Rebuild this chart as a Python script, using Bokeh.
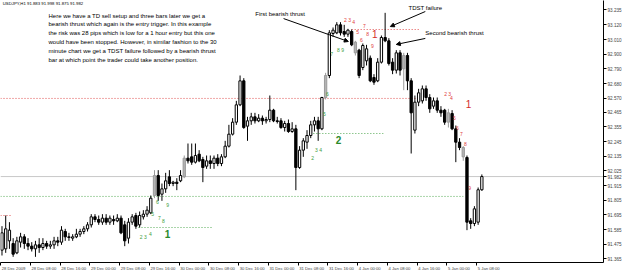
from bokeh.plotting import figure
from bokeh.models import (Range1d, LinearAxis, FixedTicker, Arrow, NormalHead, ColumnDataSource,
                          PrintfTickFormatter, CustomJSTickFormatter)
from bokeh.core.properties import value
from bokeh.embed import file_html
from bokeh.resources import INLINE

# ---- data (hourly USDJPY bars) ----
opens = [91.43, 91.44, 91.50, 91.48, 91.41, 91.49, 91.53, 91.48, 91.46, 91.44,
         91.47, 91.45, 91.48, 91.46, 91.47, 91.50, 91.49, 91.57, 91.53, 91.52,
         91.53, 91.55, 91.57, 91.59, 91.62, 91.68, 91.66, 91.64, 91.67, 91.64,
         91.66, 91.65, 91.67, 91.62, 91.52, 91.64, 91.69, 91.62, 91.68, 91.70,
         91.71, 91.84, 91.99, 91.85, 91.89, 91.98, 91.93, 91.94, 91.95, 91.98,
         92.12, 92.13, 92.09, 92.15, 92.11, 92.06, 92.10, 92.08, 92.12, 92.08,
         92.13, 92.21, 92.30, 92.39, 92.52, 92.70, 92.36, 92.40, 92.43, 92.40,
         92.42, 92.40, 92.41, 92.48, 92.40, 92.40, 92.35, 92.38, 92.32, 92.34,
         92.05, 92.18, 92.24, 92.29, 92.37, 92.40, 92.34, 92.575, 92.74, 93.055,
         93.06, 93.12, 93.07, 93.05, 93.07, 92.99, 92.93, 92.80, 92.85, 92.87,
         92.725, 92.70, 92.84, 93.025, 93.00, 92.84, 92.78, 92.91, 92.79, 92.89,
         92.70, 92.33, 92.54, 92.55, 92.64, 92.575, 92.51, 92.55, 92.48, 92.48,
         92.39, 92.455, 92.34, 92.24, 92.20, 92.125, 91.65, 91.63, 91.64, 91.883]
highs = [91.61, 91.69, 91.64, 91.52, 91.53, 91.56, 91.55, 91.52, 91.49, 91.50,
         91.52, 91.52, 91.50, 91.50, 91.53, 91.53, 91.61, 91.59, 91.56, 91.55,
         91.59, 91.59, 91.61, 91.64, 91.70, 91.70, 91.69, 91.70, 91.70, 91.69,
         91.69, 91.70, 91.69, 91.65, 91.67, 91.70, 91.71, 91.72, 91.73, 91.76,
         91.84, 92.03, 92.03, 91.93, 92.01, 92.03, 91.95, 91.97, 92.03, 92.14,
         92.23, 92.23, 92.23, 92.18, 92.13, 92.14, 92.14, 92.14, 92.15, 92.15,
         92.25, 92.37, 92.42, 92.55, 92.74, 92.72, 92.43, 92.46, 92.46, 92.45,
         92.44, 92.43, 92.59, 92.49, 92.43, 92.42, 92.40, 92.41, 92.39, 92.37,
         92.21, 92.27, 92.33, 92.40, 92.43, 92.43, 92.58, 92.76, 93.08, 93.10,
         93.14, 93.14, 93.12, 93.09, 93.085, 93.00, 92.94, 92.98, 92.97, 92.89,
         92.75, 92.87, 93.04, 93.21, 93.02, 92.87, 92.93, 92.93, 92.91, 92.91,
         92.72, 92.59, 92.64, 92.665, 92.665, 92.60, 92.575, 92.575, 92.51, 92.49,
         92.49, 92.48, 92.365, 92.27, 92.21, 92.14, 91.67, 91.76, 91.90, 91.998]
lows = [91.39, 91.41, 91.44, 91.38, 91.40, 91.45, 91.44, 91.43, 91.42, 91.38,
        91.41, 91.43, 91.44, 91.44, 91.44, 91.46, 91.47, 91.50, 91.50, 91.50,
        91.52, 91.53, 91.55, 91.57, 91.60, 91.64, 91.62, 91.62, 91.62, 91.62,
        91.62, 91.64, 91.55, 91.46, 91.48, 91.62, 91.59, 91.60, 91.66, 91.68,
        91.70, 91.82, 91.80, 91.80, 91.86, 91.91, 91.91, 91.88, 91.94, 91.97,
        92.08, 92.07, 92.08, 92.09, 91.94, 92.04, 92.04, 92.04, 92.06, 92.06,
        92.12, 92.20, 92.29, 92.37, 92.51, 92.34, 92.25, 92.37, 92.38, 92.39,
        92.37, 92.38, 92.39, 92.39, 92.38, 92.34, 92.32, 92.31, 92.31, 91.88,
        92.04, 92.13, 92.19, 92.27, 92.32, 92.25, 92.33, 92.56, 92.72, 93.03,
        93.05, 93.04, 93.03, 93.03, 92.96, 92.89, 92.72, 92.78, 92.815, 92.69,
        92.67, 92.69, 92.83, 92.99, 92.815, 92.75, 92.755, 92.74, 92.63, 92.63,
        92.155, 92.305, 92.51, 92.53, 92.55, 92.46, 92.49, 92.46, 92.43, 92.37,
        92.35, 92.33, 92.09, 92.18, 92.10, 91.58, 91.59, 91.61, 91.62, 91.875]
closes = [91.56, 91.59, 91.58, 91.40, 91.50, 91.53, 91.48, 91.46, 91.44, 91.47,
          91.45, 91.48, 91.46, 91.47, 91.50, 91.49, 91.58, 91.53, 91.525, 91.53,
          91.55, 91.57, 91.59, 91.62, 91.68, 91.66, 91.64, 91.67, 91.64, 91.67,
          91.65, 91.67, 91.56, 91.50, 91.64, 91.68, 91.61, 91.69, 91.70, 91.73,
          91.82, 91.99, 91.84, 91.89, 91.95, 91.93, 91.94, 91.93, 91.99, 92.12,
          92.10, 92.09, 92.14, 92.10, 92.05, 92.10, 92.08, 92.12, 92.08, 92.13,
          92.21, 92.30, 92.39, 92.52, 92.70, 92.35, 92.40, 92.43, 92.40, 92.42,
          92.40, 92.41, 92.48, 92.40, 92.395, 92.35, 92.38, 92.32, 92.34, 92.05,
          92.18, 92.25, 92.29, 92.37, 92.40, 92.34, 92.575, 92.74, 93.06, 93.08,
          93.12, 93.06, 93.05, 93.08, 92.97, 92.91, 92.74, 92.965, 92.94, 92.70,
          92.69, 92.84, 93.025, 93.00, 92.83, 92.78, 92.91, 92.78, 92.89, 92.70,
          92.46, 92.54, 92.61, 92.64, 92.575, 92.49, 92.55, 92.48, 92.46, 92.39,
          92.46, 92.34, 92.24, 92.20, 92.13, 91.64, 91.63, 91.74, 91.883, 91.982]

price_ticks = [93.235, 93.120, 93.010, 92.900, 92.790, 92.680, 92.570, 92.465, 92.355,
               92.245, 92.135, 92.025, 91.982, 91.915, 91.805, 91.695, 91.585, 91.475, 91.365]
date_bars = [0, 8, 16, 24, 32, 40, 48, 56, 64, 72, 80, 88, 96, 104, 112, 120, 128]
date_labels = ["28 Dec 2009", "28 Dec 08:00", "28 Dec 16:00", "29 Dec 00:00", "29 Dec 08:00",
               "29 Dec 16:00", "30 Dec 00:00", "30 Dec 08:00", "30 Dec 16:00", "31 Dec 00:00",
               "31 Dec 08:00", "31 Dec 16:00", "4 Jan 00:00", "4 Jan 08:00", "4 Jan 16:00",
               "5 Jan 00:00", "5 Jan 08:00"]
header = "USDJPY,H1  91.883 91.998 91.875 91.982"
last_price = 91.982
note_lines = ["Here we have a TD sell setup and three bars later we get a",
              "bearish thrust which again is the entry trigger. In this example",
              "the risk was 28 pips which is low for a 1 hour entry but this one",
              "would have been stopped. However, in similar fashion to the 30",
              "minute chart we get a TDST failure followed by a bearish thrust",
              "bar at which point the trader could take another position."]

# ---- styling / layout constants ----
FONT = "Liberation Sans"
PX_PER_BAR = 3.72
DATE_FONT_PX = 4.2
CHAR_EM = {**{d: 0.556 for d in "0123456789"}, " ": 0.278, ":": 0.278, "D": 0.722,
           "e": 0.556, "c": 0.5, "J": 0.5, "a": 0.556, "n": 0.556}

def text_width_bars(t):
    return sum(CHAR_EM.get(ch, 0.556) for ch in t) * DATE_FONT_PX / PX_PER_BAR

gray_bars = {41, 49, 87, 95, 108, 120, 124}
n = len(opens)
xs = list(range(n))
fill, line = [], []
for i in range(n):
    if i in gray_bars:
        fill.append("#b4b4b4"); line.append("#9a9a9a")
    elif closes[i] >= opens[i]:
        fill.append("white"); line.append("black")
    else:
        fill.append("black"); line.append("black")

src = ColumnDataSource(dict(x=xs, o=opens, h=highs, l=lows, c=closes,
                            top=[max(a, b) for a, b in zip(opens, closes)],
                            bot=[min(a, b) for a, b in zip(opens, closes)],
                            fill=fill, line=line))

p = figure(width=625, height=275, output_backend="svg", toolbar_location=None,
           x_range=Range1d(-0.4, 161.7), y_range=Range1d(91.3375, 93.3025),
           x_axis_location=None, y_axis_location=None,
           min_border_left=0, min_border_top=0, min_border_right=22, min_border_bottom=13)
p.outline_line_color = None
p.xgrid.visible = False
p.ygrid.visible = False
p.background_fill_color = "white"

# dotted level lines
levels = [(-0.4, 112.5, 92.568, "#e05050"), (94, 112.5, 93.085, "#e05050"),
          (-0.4, 2.3, 91.69, "#e05050"),
          (83.7, 102.5, 92.305, "#55aa55"), (-0.4, 124, 91.833, "#55aa55"),
          (36.7, 56.6, 91.60, "#55aa55")]
for x0, x1, yv, col in levels:
    p.segment(x0=[x0], y0=[yv], x1=[x1], y1=[yv], line_color=col, line_width=1, line_dash="1 2")
# current price line
p.segment(x0=[-0.4], y0=[last_price], x1=[161.7], y1=[last_price], line_color="#c8c8c8", line_width=1)

# candles
p.segment(x0="x", y0="l", x1="x", y1="h", line_color="line", line_width=1, source=src)
p.vbar(x="x", width=0.62, top="top", bottom="bot", fill_color="fill", line_color="line",
       line_width=1, source=src)

# price axis (right)
ra = LinearAxis(ticker=FixedTicker(ticks=price_ticks), formatter=PrintfTickFormatter(format="%.3f"))
ra.major_label_text_font_size = "4.6px"
ra.major_label_text_font = FONT
ra.major_tick_in = 0
ra.major_tick_out = 3
ra.minor_tick_line_color = None
ra.major_label_standoff = 1
ra.axis_line_color = "black"
p.add_layout(ra, "right")

# time axis: tick marks at bar boundaries
tick_pos = [b - 0.4 for b in date_bars]
ba = LinearAxis(ticker=FixedTicker(ticks=tick_pos), formatter=CustomJSTickFormatter(code="return ''"))
ba.major_label_text_font_size = "1px"
ba.major_label_standoff = 0
ba.major_tick_in = 0
ba.major_tick_out = 3
ba.minor_tick_line_color = None
ba.axis_line_color = "black"
p.add_layout(ba, "below")

# time labels: left-aligned at each tick (centre placed half a label width to the right)
centers = [round(tp + 0.3 + text_width_bars(t) / 2, 3) for tp, t in zip(tick_pos, date_labels)]
la = LinearAxis(ticker=FixedTicker(ticks=centers),
                major_label_overrides={c: t for c, t in zip(centers, date_labels)})
la.major_label_text_font_size = f"{DATE_FONT_PX}px"
la.major_label_text_font = FONT
la.major_label_standoff = 0
la.major_tick_in = 0
la.major_tick_out = 0
la.minor_tick_line_color = None
la.axis_line_color = None
p.add_layout(la, "below")

# header and note
p.text(x=[0.2], y=[93.28], text=[header], text_font=value(FONT), text_font_size="4.3px",
       text_baseline="middle", text_align="left", text_color="black")
note_y = [93.19, 93.124, 93.058, 92.992, 92.926, 92.86]
p.text(x=[12.5] * len(note_lines), y=note_y, text=note_lines, text_font=value(FONT),
       text_font_size="6px", text_baseline="middle", text_align="left", text_color="black")

# callouts
callouts = [(68.1, 93.205, "First bearish thrust"), (109.3, 93.25, "TDST failure"),
            (113.8, 93.06, "Second bearish thrust")]
for cx, cy, ct in callouts:
    p.text(x=[cx], y=[cy], text=[ct], text_font=value(FONT), text_font_size="6px",
           text_baseline="middle", text_align="left", text_color="black")
arrows = [(75.7, 93.167, 93.1, 92.995), (113.8, 93.22, 104.4, 93.107), (113.8, 93.018, 106.0, 92.973)]
for x0, y0, x1, y1 in arrows:
    p.add_layout(Arrow(end=NormalHead(size=4, fill_color="black", line_color="black", line_width=1),
                       x_start=x0, y_start=y0, x_end=x1, y_end=y1, line_color="black", line_width=1))

# TD counts
red_small = [(92.9, 93.16, "2 3"), (94.5, 93.138, "4"), (97.4, 93.115, "7"), (95.6, 93.063, "5"),
             (96.6, 93.003, "6"), (98.3, 93.048, "8"), (99.6, 92.965, "9"),
             (119.8, 92.605, "2 3"), (120.8, 92.575, "4"), (121.6, 92.425, "5"), (122.4, 92.343, "6"),
             (123.5, 92.305, "7"), (124.6, 92.223, "8"), (125.7, 91.893, "9")]
green_small = [(38.0, 91.532, "2 3"), (39.9, 91.548, "4"), (40.5, 91.698, "5"), (41.8, 91.788, "6"),
               (42.3, 91.675, "7"), (43.4, 91.65, "8"), (44.5, 91.77, "9"),
               (83.5, 92.125, "2"), (85.1, 92.178, "3 4"), (86.7, 92.448, "5"), (87.5, 92.605, "6"),
               (88.6, 92.898, "7"), (91.0, 92.935, "8 9")]
red_big = [(100.2, 93.055, "1"), (125.4, 92.53, "1")]
green_big = [(44.5, 91.555, "1"), (90.5, 92.253, "2")]
for lst, col, size, style in [(red_small, "#e03c3c", "5px", "normal"),
                              (green_small, "#3c9c3c", "5px", "normal"),
                              (red_big, "#d42a2a", "10px", "normal"),
                              (green_big, "#2a8a2a", "10px", "bold")]:
    p.text(x=[a for a, _, _ in lst], y=[b for _, b, _ in lst], text=[c for _, _, c in lst],
           text_font=value(FONT), text_font_size=size, text_font_style=style,
           text_align="center", text_baseline="middle", text_color=col)

open("out.html", "w").write(file_html(p, INLINE))
